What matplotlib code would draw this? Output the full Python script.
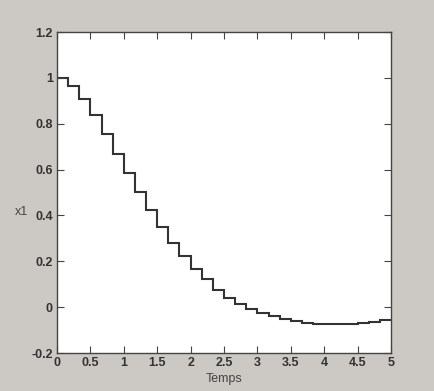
import numpy as np
import matplotlib
matplotlib.use("Agg")
import matplotlib.pyplot as plt

# Data: piecewise-constant x1 over 30 sampling intervals on [0, 5]
x1_values = [1.000, 0.965, 0.907, 0.839, 0.756, 0.670, 0.587, 0.501, 0.425, 0.350,
             0.282, 0.222, 0.167, 0.121, 0.077, 0.042, 0.015, -0.008, -0.026, -0.040,
             -0.052, -0.062, -0.069, -0.074, -0.075, -0.075, -0.074, -0.070, -0.064, -0.056]
t_start = 0.0
t_end = 5.0
x_ticks = [0, 0.5, 1, 1.5, 2, 2.5, 3, 3.5, 4, 4.5, 5]
x_tick_labels = ["0", "0.5", "1", "1.5", "2", "2.5", "3", "3.5", "4", "4.5", "5"]
y_ticks = [-0.2, 0, 0.2, 0.4, 0.6, 0.8, 1.0, 1.2]
y_tick_labels = ["-0.2", "0", "0.2", "0.4", "0.6", "0.8", "1", "1.2"]

edges = np.linspace(t_start, t_end, len(x1_values) + 1)

bg = "#ccc9c5"
fig = plt.figure(figsize=(4.35, 3.91), dpi=100, facecolor=bg)
ax = fig.add_axes([0.131, 0.097, 0.768, 0.821])
ax.set_facecolor("white")

ax.stairs(x1_values, edges, baseline=None, color="#333333", linewidth=1.5)

ax.set_xlim(0, 5)
ax.set_ylim(-0.2, 1.2)
ax.set_xticks(x_ticks)
ax.set_xticklabels(x_tick_labels)
ax.set_yticks(y_ticks)
ax.set_yticklabels(y_tick_labels)
ax.tick_params(direction="in", top=True, right=True, length=5, width=0.8,
               colors="#444444", labelcolor="#333333", labelsize=9, pad=3)
for lab in ax.get_xticklabels() + ax.get_yticklabels():
    lab.set_fontweight("bold")
    lab.set_family("Liberation Sans")
for sp in ax.spines.values():
    sp.set_color("#444444")
    sp.set_linewidth(1.0)

ax.set_xlabel("Temps", fontsize=9, color="#444444", family="Liberation Sans", labelpad=3)
ax.set_ylabel("x1", fontsize=9, color="#444444", family="Liberation Sans",
              rotation=0, labelpad=0, ha="center", va="center")
ax.yaxis.set_label_coords(-0.105, 0.44)

fig.savefig("out.png", dpi=100, facecolor=bg)
